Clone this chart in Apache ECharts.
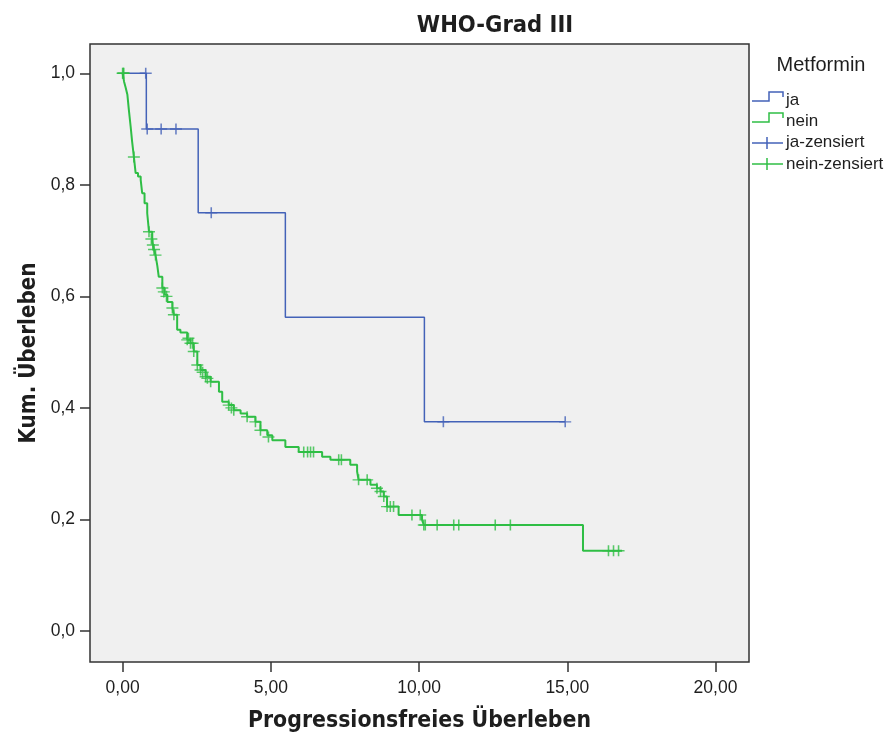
<!DOCTYPE html>
<html>
<head>
<meta charset="utf-8">
<script src="https://cdn.jsdelivr.net/npm/echarts@6/dist/echarts.min.js"></script>
<style>html,body{margin:0;padding:0;background:#fff;}#c{width:893px;height:738px;}</style>
</head>
<body>
<div id="c"></div>
<script>
// ---- data ----
var xTicks = [0, 5, 10, 15, 20];
var yTicks = [0, 0.2, 0.4, 0.6, 0.8, 1.0];

// Metformin = ja (step curve: time at which survival becomes value)
var jaTimes = [0, 0.80, 2.55, 5.49, 10.18, 14.93];
var jaSurv  = [1.0, 0.9, 0.75, 0.5625, 0.375, 0.375];
var jaCensTimes = [0.78, 0.83, 1.30, 1.80, 2.99, 10.82, 14.93];
var jaCensSurv  = [1.0, 0.9, 0.9, 0.9, 0.75, 0.375, 0.375];

// Metformin = nein
var neinTimes = [0, 0.05, 0.10, 0.16, 0.21, 0.27, 0.32, 0.38, 0.44, 0.52, 0.61, 0.66, 0.74, 0.83, 0.89,
  1.00, 1.05, 1.11, 1.17, 1.22, 1.34, 1.42, 1.51, 1.68, 1.73, 1.84, 1.95, 2.18, 2.29, 2.40, 2.52, 2.63,
  2.80, 2.97, 3.25, 3.36, 3.58, 3.75, 3.98, 4.20, 4.48, 4.65, 4.88, 5.05, 5.49, 5.94, 6.73, 7.01, 7.68,
  7.91, 7.96, 8.36, 8.58, 8.70, 8.81, 8.92, 9.31, 10.10, 10.16, 15.53, 16.85];
var neinSurv = [1.0, 0.985, 0.975, 0.962, 0.935, 0.905, 0.878, 0.850, 0.821, 0.815, 0.809, 0.785, 0.767, 0.749, 0.716,
  0.698, 0.686, 0.674, 0.655, 0.635, 0.615, 0.603, 0.590, 0.579, 0.567, 0.540, 0.535, 0.522, 0.516, 0.501, 0.477, 0.468,
  0.456, 0.447, 0.429, 0.411, 0.405, 0.396, 0.390, 0.384, 0.375, 0.360, 0.351, 0.342, 0.330, 0.321, 0.3125, 0.307, 0.298,
  0.286, 0.271, 0.262, 0.256, 0.250, 0.241, 0.223, 0.208, 0.199, 0.190, 0.144, 0.144];
var neinCensTimes = [0.0, 0.02, 0.04, 0.38, 0.89, 0.97, 1.02, 1.06, 1.11, 1.34, 1.39, 1.48, 1.68, 1.73,
  2.18, 2.22, 2.29, 2.36, 2.40, 2.52, 2.63, 2.70, 2.80, 2.86, 2.97, 3.58, 3.67, 3.75, 4.20, 4.48, 4.65, 4.92,
  6.11, 6.24, 6.34, 6.44, 7.29, 7.38, 7.96, 8.25, 8.58, 8.70, 8.81, 8.92, 9.03, 9.14, 9.76, 10.04,
  10.16, 10.21, 10.61, 11.17, 11.34, 12.57, 13.08, 16.39, 16.56, 16.73];
var neinCensSurv = [1.0, 1.0, 1.0, 0.850, 0.716, 0.703, 0.692, 0.684, 0.674, 0.615, 0.608, 0.600, 0.579, 0.567,
  0.522, 0.525, 0.516, 0.516, 0.501, 0.477, 0.468, 0.464, 0.456, 0.453, 0.447, 0.405, 0.400, 0.396, 0.384, 0.375, 0.360, 0.348,
  0.321, 0.321, 0.321, 0.321, 0.307, 0.307, 0.271, 0.271, 0.256, 0.250, 0.241, 0.223, 0.223, 0.223, 0.208, 0.208,
  0.190, 0.190, 0.190, 0.190, 0.190, 0.190, 0.190, 0.144, 0.144, 0.144];

// ---- styling ----
var BLUE = '#4362b8';
var GREEN = '#2fbe45';
var TXT = '#1e1e1e';
var SANS = '"Liberation Sans", Arial, sans-serif';
var COND = '"DejaVu Sans Condensed", "DejaVu Sans", sans-serif';
var PLUS = 'path://M0,5.5L12,5.5M6,0L6,11';

function zip(a, b) { return a.map(function (v, i) { return [v, b[i]]; }); }

var chart = echarts.init(document.getElementById('c'), null, {renderer: 'canvas'});
var option = {
  animation: false,
  grid: {
    left: 90, right: 144, top: 44, bottom: 76,
    show: true, backgroundColor: '#f0f0f0', borderColor: '#333', borderWidth: 1.5
  },
  xAxis: {
    type: 'value', min: -1.1, max: 21.13,
    splitLine: {show: false},
    axisLine: {show: false, onZero: false},
    axisTick: {show: true, customValues: xTicks, length: 10, inside: false, lineStyle: {color: '#333', width: 1.5}},
    axisLabel: {customValues: xTicks, margin: 17, color: TXT, fontSize: 17.5, fontFamily: SANS,
      formatter: function (v) { return v.toFixed(2).replace('.', ','); }},
    name: 'Progressionsfreies Überleben', nameLocation: 'middle', nameGap: 48,
    nameTextStyle: {fontSize: 22.8, fontWeight: 'bold', color: TXT, fontFamily: COND}
  },
  yAxis: {
    type: 'value', min: -0.0556, max: 1.0525,
    splitLine: {show: false},
    axisLine: {show: false, onZero: false},
    axisTick: {show: true, customValues: yTicks, length: 10, inside: false, lineStyle: {color: '#333', width: 1.5}},
    axisLabel: {customValues: yTicks, margin: 15, color: TXT, fontSize: 17.5, fontFamily: SANS,
      formatter: function (v) { return v.toFixed(1).replace('.', ','); }},
    name: 'Kum. Überleben', nameLocation: 'middle', nameGap: 43, nameRotate: 90,
    nameTextStyle: {fontSize: 22.2, fontWeight: 'bold', color: TXT, fontFamily: COND}
  },
  series: [
    {name: 'ja', type: 'line', step: 'end', data: zip(jaTimes, jaSurv), showSymbol: false, symbol: 'none',
      lineStyle: {color: BLUE, width: 1.5}, z: 3},
    {name: 'nein', type: 'line', step: 'end', data: zip(neinTimes, neinSurv), showSymbol: false, symbol: 'none',
      lineStyle: {color: GREEN, width: 2}, z: 2},
    {name: 'ja-zensiert', type: 'scatter', data: zip(jaCensTimes, jaCensSurv), symbol: PLUS, symbolSize: [12, 11],
      itemStyle: {color: 'transparent', borderColor: BLUE, borderWidth: 1.5}, emphasis: {disabled: true}, z: 4},
    {name: 'nein-zensiert', type: 'scatter', data: zip(neinCensTimes, neinCensSurv), symbol: PLUS, symbolSize: [12, 11],
      itemStyle: {color: 'transparent', borderColor: GREEN, borderWidth: 1.5}, emphasis: {disabled: true}, z: 4}
  ],
  graphic: [
    {type: 'text', x: 495, y: 26, style: {text: 'WHO-Grad III', fill: TXT, font: 'bold 23.5px ' + COND, align: 'center', verticalAlign: 'middle'}},
    {type: 'text', x: 821, y: 65, style: {text: 'Metformin', fill: TXT, font: '20px ' + SANS, align: 'center', verticalAlign: 'middle'}},
    {type: 'polyline', shape: {points: [[752, 101], [769, 101], [769, 92], [783, 92], [783, 97]]}, style: {stroke: BLUE, lineWidth: 1.5, fill: null}},
    {type: 'text', x: 786, y: 100, style: {text: 'ja', fill: TXT, font: '17px ' + SANS, verticalAlign: 'middle'}},
    {type: 'polyline', shape: {points: [[752, 122], [769, 122], [769, 113], [783, 113], [783, 118]]}, style: {stroke: GREEN, lineWidth: 1.5, fill: null}},
    {type: 'text', x: 786, y: 121, style: {text: 'nein', fill: TXT, font: '17px ' + SANS, verticalAlign: 'middle'}},
    {type: 'line', shape: {x1: 752, y1: 143, x2: 783, y2: 143}, style: {stroke: BLUE, lineWidth: 1.5}},
    {type: 'line', shape: {x1: 767, y1: 137, x2: 767, y2: 149}, style: {stroke: BLUE, lineWidth: 1.5}},
    {type: 'text', x: 786, y: 142.5, style: {text: 'ja-zensiert', fill: TXT, font: '17px ' + SANS, verticalAlign: 'middle'}},
    {type: 'line', shape: {x1: 752, y1: 164, x2: 783, y2: 164}, style: {stroke: GREEN, lineWidth: 1.5}},
    {type: 'line', shape: {x1: 767, y1: 158, x2: 767, y2: 170}, style: {stroke: GREEN, lineWidth: 1.5}},
    {type: 'text', x: 786, y: 164, style: {text: 'nein-zensiert', fill: TXT, font: '17px ' + SANS, verticalAlign: 'middle'}}
  ]
};
chart.setOption(option);
</script>
</body>
</html>
